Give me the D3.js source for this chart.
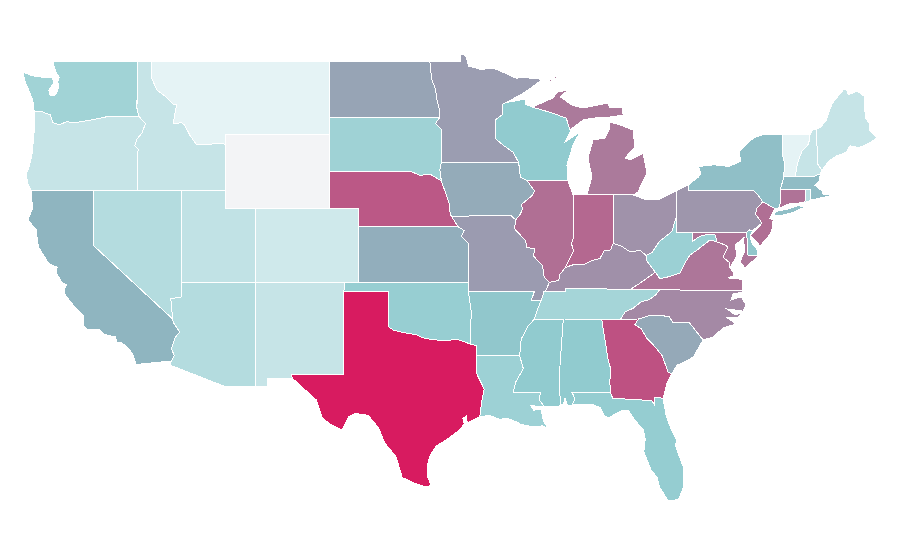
<!DOCTYPE html>
<html>
<head>
<meta charset="utf-8">
<script src="https://cdn.jsdelivr.net/npm/d3@7"></script>
<style>
body { margin: 0; background: #fff; }
</style>
</head>
<body>
<svg id="map" width="900" height="560" viewBox="0 0 900 560"></svg>
<script>
const stateNames = ["WA","OR","CA","NV","ID","MT","WY","UT","AZ","NM","CO","ND","SD","NE","KS","OK","TX","MN","IA","MO","AR","LA","WI","IL","IN","MI","OH","KY","TN","MS","AL","GA","FL","SC","NC","VA","WV","MD","DE","PA","NJ","NY","CT","RI","MA","VT","NH","ME"];

const stateValues = [40,22,56,31,22,7,0,24.5,31,22,17.5,61,41,82.5,58,45,100,63,59,63.5,49.5,42,48,76,78,73,66,66.5,38,48,48,84.5,46,59.5,68.5,74,43,74,50,65,76,52.5,75,28.5,53.5,7,22,22];

// state outlines in lon/lat, one list of rings per state
const stateOutlines = [
  // WA
  [[[-124.73,48.38],[-124.1,48.2],[-123.5,48.13],[-122.95,48.1],[-122.75,48.15],[-122.7,47.8],[-123.0,47.4],[-122.9,47.1],[-122.6,47.15],[-122.45,47.3],[-122.35,47.6],[-122.4,47.9],[-122.3,48.1],[-122.55,48.45],[-122.75,49],[-117.03,49],[-117.04,46.42],[-116.92,46.0],[-119.0,46.0],[-119.3,45.93],[-120.0,45.82],[-120.6,45.74],[-121.2,45.65],[-121.8,45.7],[-122.3,45.55],[-122.75,45.65],[-122.8,45.85],[-122.9,46.08],[-123.2,46.15],[-123.5,46.26],[-124.0,46.27],[-124.05,46.65],[-124.1,46.9],[-124.35,47.4],[-124.65,47.95]]],
  // OR
  [[[-124.0,46.27],[-123.5,46.26],[-123.2,46.15],[-122.9,46.08],[-122.8,45.85],[-122.75,45.65],[-122.3,45.55],[-121.8,45.7],[-121.2,45.65],[-120.6,45.74],[-120.0,45.82],[-119.3,45.93],[-119.0,46.0],[-116.92,46.0],[-116.47,45.6],[-116.7,45.1],[-117.05,44.75],[-117.2,44.4],[-116.95,44.2],[-117.03,43.8],[-117.03,42],[-120,42],[-124.2,42],[-124.4,42.3],[-124.55,42.84],[-124.4,43.1],[-124.15,43.9],[-124.05,44.7],[-123.95,45.6]]],
  // CA
  [[[-124.2,42],[-120,42],[-120,39],[-114.63,35.0],[-114.57,34.8],[-114.15,34.3],[-114.45,34.0],[-114.7,33.4],[-114.52,33.0],[-114.72,32.72],[-117.12,32.53],[-117.28,33.0],[-117.6,33.4],[-118.1,33.72],[-118.4,33.75],[-118.5,34.03],[-119.2,34.15],[-119.6,34.42],[-120.45,34.45],[-120.65,34.6],[-120.65,35.15],[-121.3,35.7],[-121.9,36.3],[-121.95,36.6],[-121.8,36.85],[-122.1,36.96],[-122.5,37.5],[-122.45,37.8],[-122.5,37.83],[-123.0,38.0],[-123.7,38.9],[-123.8,39.4],[-123.85,39.85],[-124.35,40.3],[-124.4,40.45],[-124.1,41.0],[-124.2,41.75]]],
  // NV
  [[[-120,42],[-114.04,42],[-114.04,36.2],[-114.75,36.1],[-114.63,35.0],[-120,39]]],
  // ID
  [[[-117.03,49],[-116.05,49],[-116.05,48.08],[-115.7,47.43],[-115.0,47.0],[-114.6,46.65],[-114.35,46.65],[-114.6,45.6],[-114.0,45.65],[-113.8,45.5],[-113.45,44.95],[-113.0,44.45],[-112.4,44.45],[-111.5,44.55],[-111.05,44.48],[-111.05,42],[-117.03,42],[-117.03,43.8],[-116.95,44.2],[-117.2,44.4],[-117.05,44.75],[-116.7,45.1],[-116.47,45.6],[-116.92,46.0],[-117.04,46.42]]],
  // MT
  [[[-116.05,49],[-104.05,49],[-104.05,45],[-111.05,45],[-111.05,44.48],[-111.5,44.55],[-112.4,44.45],[-113.0,44.45],[-113.45,44.95],[-113.8,45.5],[-114.0,45.65],[-114.6,45.6],[-114.35,46.65],[-114.6,46.65],[-115.0,47.0],[-115.7,47.43],[-116.05,48.08]]],
  // WY
  [[[-111.05,45],[-104.05,45],[-104.05,41],[-111.05,41]]],
  // UT
  [[[-114.04,42],[-111.05,42],[-111.05,41],[-109.05,41],[-109.05,37],[-114.04,37]]],
  // AZ
  [[[-114.04,37],[-109.05,37],[-109.05,31.33],[-111.07,31.33],[-114.81,32.5],[-114.72,32.72],[-114.52,33.0],[-114.7,33.4],[-114.45,34.0],[-114.15,34.3],[-114.57,34.8],[-114.63,35.0],[-114.75,36.1],[-114.04,36.2]]],
  // NM
  [[[-109.05,37],[-103.0,37],[-103.04,36.5],[-103.06,32.0],[-106.62,32.0],[-106.53,31.78],[-108.21,31.78],[-108.21,31.33],[-109.05,31.33]]],
  // CO
  [[[-109.05,41],[-102.05,41],[-102.05,37],[-109.05,37]]],
  // ND
  [[[-104.05,49],[-97.23,49],[-97.1,48],[-96.85,47.5],[-96.75,46.9],[-96.55,46.3],[-96.56,45.94],[-104.05,45.94]]],
  // SD
  [[[-104.05,45.94],[-96.56,45.94],[-96.85,45.6],[-96.45,45.3],[-96.45,43.5],[-96.55,43.1],[-96.45,42.49],[-97.2,42.85],[-97.9,42.8],[-98.5,43.0],[-104.05,43]]],
  // NE
  [[[-104.05,43],[-98.5,43],[-97.9,42.8],[-97.2,42.85],[-96.45,42.49],[-96.1,41.7],[-95.9,41.2],[-95.85,40.7],[-95.31,40.0],[-102.05,40],[-102.05,41],[-104.05,41]]],
  // KS
  [[[-102.05,40],[-95.31,40],[-94.9,39.8],[-95.1,39.5],[-94.6,39.1],[-94.62,37],[-102.04,37]]],
  // OK
  [[[-103.0,37],[-94.62,37],[-94.43,35.4],[-94.48,33.64],[-95.3,33.88],[-96.0,33.85],[-96.6,33.85],[-97.2,33.9],[-97.7,33.98],[-98.1,34.13],[-99.2,34.3],[-99.7,34.4],[-100.0,34.56],[-100.0,36.5],[-103.04,36.5]]],
  // TX
  [[[-106.62,32],[-103.06,32],[-103.04,36.5],[-100,36.5],[-100,34.56],[-99.7,34.4],[-99.2,34.3],[-98.1,34.13],[-97.7,33.98],[-97.2,33.9],[-96.6,33.85],[-96.0,33.85],[-95.3,33.88],[-94.48,33.64],[-94.04,33.55],[-94.04,33.02],[-94.04,32.0],[-93.55,31.2],[-93.72,30.5],[-93.85,29.7],[-94.7,29.35],[-94.75,29.75],[-95.0,29.6],[-94.9,29.3],[-95.2,29.0],[-96.0,28.5],[-96.8,28.1],[-97.2,27.6],[-97.35,27.2],[-97.4,26.5],[-97.15,25.96],[-97.5,25.88],[-98.3,26.1],[-99.1,26.4],[-99.5,27.5],[-100.3,28.3],[-100.7,29.1],[-101.4,29.77],[-102.3,29.88],[-102.7,29.7],[-103.15,28.98],[-104.0,29.3],[-104.5,29.65],[-104.9,30.6],[-106.0,31.4],[-106.53,31.78]]],
  // MN
  [[[-97.23,49],[-95.15,49],[-95.15,49.38],[-94.8,49.3],[-94.6,48.72],[-93.8,48.55],[-92.9,48.6],[-92.0,48.3],[-91.4,48.07],[-90.75,48.1],[-89.6,48.0],[-90.8,47.3],[-92.05,46.75],[-92.3,46.65],[-92.3,46.1],[-92.8,45.8],[-92.75,45.3],[-92.8,44.8],[-92.3,44.45],[-91.6,44.05],[-91.22,43.5],[-96.45,43.5],[-96.45,45.3],[-96.85,45.6],[-96.56,45.94],[-96.55,46.3],[-96.75,46.9],[-96.85,47.5],[-97.1,48]]],
  // IA
  [[[-96.45,43.5],[-91.22,43.5],[-91.1,42.7],[-90.64,42.5],[-90.15,41.95],[-90.3,41.7],[-91.05,41.2],[-90.95,41.0],[-91.1,40.7],[-91.42,40.38],[-91.73,40.61],[-95.77,40.58],[-95.85,40.7],[-95.9,41.2],[-96.1,41.7],[-96.45,42.49],[-96.55,43.1]]],
  // MO
  [[[-95.77,40.58],[-91.73,40.61],[-91.42,40.38],[-91.5,39.9],[-90.75,39.25],[-90.68,38.9],[-90.15,38.8],[-90.2,38.4],[-89.6,37.9],[-89.5,37.3],[-89.15,36.98],[-89.4,36.5],[-89.5,36.5],[-89.7,36.0],[-90.37,36.0],[-90.15,36.5],[-94.62,36.5],[-94.62,37],[-94.6,39.1],[-95.1,39.5],[-94.9,39.8],[-95.31,40.0]]],
  // AR
  [[[-94.62,36.5],[-90.15,36.5],[-90.37,36.0],[-89.7,36.0],[-89.95,35.5],[-90.15,35.0],[-90.6,34.6],[-91.05,33.9],[-91.15,33.0],[-94.04,33.02],[-94.04,33.55],[-94.48,33.64],[-94.43,35.4]]],
  // LA
  [[[-94.04,33.02],[-91.15,33.0],[-90.9,32.3],[-91.4,31.6],[-91.6,31.0],[-89.73,31.0],[-89.85,30.65],[-89.5,30.25],[-89.8,30.25],[-90.4,30.3],[-90.2,30.05],[-89.7,30.1],[-89.62,29.8],[-89.55,29.45],[-89.2,29.05],[-89.6,29.2],[-90.25,29.14],[-91.13,29.3],[-91.3,29.4],[-92.0,29.62],[-92.48,29.55],[-93.2,29.77],[-93.85,29.7],[-93.72,30.5],[-93.55,31.2],[-94.04,32.0]]],
  // WI
  [[[-92.05,46.75],[-91.2,46.87],[-90.8,46.95],[-90.75,46.65],[-90.3,46.5],[-88.96,46.18],[-88.0,45.9],[-87.74,45.26],[-87.74,45.14],[-88.08,44.6],[-87.07,45.15],[-87.54,44.44],[-87.95,43.36],[-87.88,42.49],[-90.64,42.5],[-91.1,42.7],[-91.22,43.5],[-91.6,44.05],[-92.3,44.45],[-92.8,44.8],[-92.75,45.3],[-92.8,45.8],[-92.3,46.1],[-92.3,46.65]]],
  // IL
  [[[-90.64,42.5],[-87.88,42.49],[-87.53,41.72],[-87.53,39.35],[-87.65,39.1],[-87.5,38.7],[-88.05,37.8],[-88.45,37.4],[-88.5,37.1],[-89.15,36.98],[-89.5,37.3],[-89.6,37.9],[-90.2,38.4],[-90.15,38.8],[-90.68,38.9],[-90.75,39.25],[-91.5,39.9],[-91.42,40.38],[-91.1,40.7],[-90.95,41.0],[-91.05,41.2],[-90.3,41.7],[-90.15,41.95]]],
  // IN
  [[[-87.53,41.72],[-87.2,41.76],[-86.6,41.76],[-84.8,41.76],[-84.82,39.1],[-85.0,38.75],[-85.45,38.7],[-85.7,38.3],[-86.3,38.15],[-86.8,37.95],[-87.5,37.95],[-88.05,37.8],[-87.5,38.7],[-87.65,39.1],[-87.53,39.35]]],
  // MI
  [[[-90.3,46.5],[-88.96,46.18],[-88.0,45.9],[-87.74,45.26],[-86.86,45.8],[-86.19,45.9],[-85.04,45.96],[-84.15,46.07],[-84.22,46.45],[-85.04,46.45],[-85.17,46.72],[-86.86,46.45],[-87.6,46.6],[-88.4,47.05],[-87.88,47.43],[-88.55,47.32],[-88.75,47.15],[-88.88,47.0]],
   [[-86.6,41.76],[-84.8,41.76],[-83.45,41.73],[-83.14,41.9],[-83.0,42.16],[-82.53,42.92],[-82.8,44.0],[-83.68,43.63],[-84.02,43.74],[-83.35,44.33],[-83.48,45.25],[-84.36,45.53],[-85.04,45.69],[-85.04,45.36],[-85.38,44.82],[-86.19,44.71],[-86.53,43.74],[-86.26,42.71]],
   [[-89.2,47.85],[-88.5,48.15],[-88.7,48.15],[-89.15,47.95]]],
  // OH
  [[[-84.8,41.76],[-83.45,41.73],[-82.7,41.5],[-81.7,41.5],[-80.52,41.98],[-80.52,40.64],[-80.85,39.75],[-81.7,39.2],[-82.2,38.6],[-82.6,38.45],[-83.0,38.72],[-83.7,38.65],[-84.25,38.95],[-84.82,39.1]]],
  // KY
  [[[-84.82,39.1],[-84.25,38.95],[-83.7,38.65],[-83.0,38.72],[-82.6,38.45],[-82.6,38.2],[-81.97,37.54],[-83.0,36.95],[-83.68,36.6],[-86.5,36.65],[-88.07,36.68],[-88.07,36.5],[-89.4,36.5],[-89.15,36.98],[-88.5,37.1],[-88.45,37.4],[-88.05,37.8],[-87.5,37.95],[-86.8,37.95],[-86.3,38.15],[-85.7,38.3],[-85.45,38.7],[-85.0,38.75]]],
  // TN
  [[[-81.68,36.59],[-83.68,36.6],[-86.5,36.65],[-88.07,36.68],[-88.07,36.5],[-89.5,36.5],[-89.7,36.0],[-89.95,35.5],[-90.15,35.0],[-88.2,35.0],[-85.6,34.98],[-84.32,34.99],[-84.0,35.4],[-83.5,35.57],[-82.9,35.95],[-82.4,36.05],[-81.95,36.3]]],
  // MS
  [[[-88.2,35.0],[-90.15,35.0],[-90.6,34.6],[-91.05,33.9],[-91.15,33.0],[-90.9,32.3],[-91.4,31.6],[-91.6,31.0],[-89.73,31.0],[-89.85,30.65],[-89.5,30.25],[-88.42,30.28],[-88.4,30.37],[-88.47,31.9]]],
  // AL
  [[[-88.2,35.0],[-85.6,34.98],[-85.18,32.87],[-85.0,32.3],[-85.05,31.55],[-85.0,31.0],[-87.6,31.0],[-87.4,30.65],[-87.6,30.33],[-87.9,30.28],[-88.08,30.72],[-88.2,30.33],[-88.4,30.37],[-88.47,31.9]]],
  // GA
  [[[-85.6,34.98],[-84.32,34.99],[-83.11,35.0],[-83.35,34.7],[-82.9,34.45],[-82.55,33.95],[-82.0,33.5],[-81.5,33.0],[-81.1,32.1],[-80.85,32.03],[-81.15,31.6],[-81.45,30.7],[-82.05,30.75],[-82.05,30.37],[-82.2,30.57],[-84.86,30.7],[-85.0,31.0],[-85.05,31.55],[-85.0,32.3],[-85.18,32.87]]],
  // FL
  [[[-87.6,31.0],[-85.0,31.0],[-84.86,30.7],[-82.2,30.57],[-82.05,30.37],[-82.05,30.75],[-81.45,30.7],[-81.25,29.8],[-80.9,29.0],[-80.55,28.45],[-80.6,28.1],[-80.05,26.9],[-80.1,25.8],[-80.4,25.2],[-81.1,25.13],[-81.7,25.9],[-81.85,26.4],[-82.25,26.8],[-82.75,27.8],[-82.65,28.5],[-82.8,29.0],[-83.4,29.55],[-83.82,30.06],[-84.35,30.0],[-85.1,29.65],[-85.38,29.7],[-85.72,30.2],[-86.3,30.38],[-87.6,30.33],[-87.4,30.65]]],
  // SC
  [[[-83.11,35.0],[-82.3,35.2],[-81.05,35.15],[-80.8,34.82],[-79.67,34.8],[-78.74,33.86],[-79.4,32.94],[-79.9,32.7],[-80.5,32.5],[-80.85,32.03],[-81.1,32.1],[-81.5,33.0],[-82.0,33.5],[-82.55,33.95],[-82.9,34.45],[-83.35,34.7]]],
  // NC
  [[[-84.32,34.99],[-83.11,35.0],[-82.3,35.2],[-81.05,35.15],[-80.8,34.82],[-79.67,34.8],[-78.74,33.86],[-78.07,34.02],[-77.39,34.51],[-76.71,34.68],[-76.58,34.78],[-77.12,35.06],[-76.44,35.06],[-76.11,35.33],[-76.58,35.22],[-77.12,35.54],[-76.04,35.43],[-75.83,35.76],[-76.11,36.14],[-76.44,36.14],[-76.85,36.03],[-76.71,36.36],[-76.04,36.47],[-76.04,36.52],[-81.68,36.59],[-81.95,36.3],[-82.4,36.05],[-82.9,35.95],[-83.5,35.57],[-84.0,35.4]]],
  // VA
  [[[-76.04,36.52],[-81.68,36.59],[-83.68,36.6],[-83.0,36.95],[-81.97,37.54],[-81.68,37.2],[-81.25,37.25],[-80.3,37.5],[-80.0,38.0],[-79.63,38.47],[-79.15,38.74],[-78.27,39.29],[-77.8,39.18],[-77.26,39.02],[-77.05,38.9],[-77.39,38.36],[-76.92,38.04],[-76.92,37.77],[-76.71,37.55],[-76.71,37.33],[-77.05,37.23],[-76.1,37.15]]],
  // WV
  [[[-82.6,38.45],[-82.2,38.6],[-81.7,39.2],[-80.85,39.75],[-80.52,40.64],[-80.52,39.72],[-79.48,39.72],[-79.48,39.2],[-79.0,39.47],[-78.4,39.61],[-77.93,39.56],[-77.8,39.18],[-78.27,39.29],[-79.15,38.74],[-79.63,38.47],[-80.0,38.0],[-80.3,37.5],[-81.25,37.25],[-81.68,37.2],[-81.97,37.54],[-82.6,38.2]]],
  // MD
  [[[-79.48,39.72],[-75.79,39.72],[-75.7,38.46],[-75.05,38.45],[-75.09,38.36],[-75.9,37.77],[-76.24,38.09],[-75.9,38.75],[-76.04,39.4],[-75.9,39.45],[-76.58,39.02],[-76.44,38.47],[-76.92,37.77],[-76.92,38.04],[-77.39,38.36],[-77.05,38.9],[-77.26,39.02],[-77.8,39.18],[-77.93,39.56],[-78.4,39.61],[-79.0,39.47],[-79.48,39.2]]],
  // DE
  [[[-75.79,39.72],[-75.6,39.83],[-75.4,39.8],[-75.55,39.45],[-75.4,39.05],[-75.1,38.8],[-75.05,38.45],[-75.7,38.46]]],
  // PA
  [[[-80.52,41.98],[-79.76,42.27],[-79.76,42.0],[-75.35,42.0],[-75.05,41.75],[-74.7,41.36],[-75.1,41.0],[-75.2,40.7],[-74.75,40.2],[-75.4,39.8],[-75.6,39.83],[-75.79,39.72],[-80.52,39.72],[-80.52,40.64]]],
  // NJ
  [[[-74.7,41.36],[-73.9,41.0],[-74.05,40.7],[-74.25,40.45],[-74.0,40.4],[-74.1,39.75],[-74.4,39.4],[-74.9,38.95],[-75.1,39.2],[-75.55,39.55],[-75.1,39.9],[-74.75,40.2],[-75.2,40.7],[-75.1,41.0]]],
  // NY
  [[[-79.76,42.27],[-79.05,42.7],[-78.9,42.9],[-79.05,43.27],[-78.0,43.37],[-77.0,43.28],[-76.2,43.55],[-76.3,44.1],[-75.3,44.85],[-74.7,45.0],[-73.35,45.0],[-73.4,44.0],[-73.25,43.55],[-73.27,42.75],[-73.5,42.05],[-73.5,41.3],[-73.65,41.0],[-73.9,41.0],[-74.7,41.36],[-75.05,41.75],[-75.35,42.0],[-79.76,42.0]],
   [[-74.03,40.6],[-73.75,40.85],[-73.0,40.97],[-72.3,41.15],[-71.87,41.07],[-72.6,40.8],[-73.5,40.6]]],
  // CT
  [[[-73.5,42.05],[-71.8,42.02],[-71.85,41.32],[-72.9,41.25],[-73.65,41.0],[-73.5,41.3]]],
  // RI
  [[[-71.8,42.02],[-71.45,42.02],[-71.45,41.45],[-71.85,41.32]]],
  // MA
  [[[-73.27,42.75],[-71.25,42.74],[-70.82,42.87],[-70.85,42.5],[-71.17,42.25],[-70.7,41.95],[-70.6,41.75],[-70.1,41.72],[-70.1,41.68],[-70.65,41.6],[-71.17,41.5],[-71.45,41.45],[-71.45,42.02],[-71.8,42.02],[-73.5,42.05]]],
  // VT
  [[[-73.35,45],[-71.5,45],[-71.6,44.5],[-72.05,44.1],[-72.3,43.6],[-72.45,43.1],[-72.46,42.73],[-73.27,42.75],[-73.25,43.55],[-73.4,44.0]]],
  // NH
  [[[-71.5,45.0],[-71.3,45.3],[-71.08,45.3],[-70.98,43.4],[-70.7,43.07],[-70.82,42.87],[-71.25,42.74],[-72.46,42.73],[-72.45,43.1],[-72.3,43.6],[-72.05,44.1],[-71.6,44.5]]],
  // ME
  [[[-71.08,45.3],[-70.8,45.4],[-70.4,45.8],[-70.25,46.2],[-70.0,46.7],[-69.23,47.46],[-69.05,47.43],[-68.9,47.18],[-68.3,47.36],[-67.8,47.07],[-67.78,45.9],[-67.45,45.6],[-67.45,45.2],[-66.97,44.82],[-67.6,44.5],[-68.2,44.3],[-68.8,44.4],[-69.05,44.05],[-69.7,43.85],[-70.2,43.6],[-70.7,43.07],[-70.98,43.4]]]
];

let svg = d3.select("#map")

let color = d3.scaleLinear()
    .domain([0, 7, 48, 56, 100])
    .range(["#f3f4f6", "#e5f3f5", "#91cbcf", "#8fb5c0", "#d81b60"])

// the map is stretched: 14.78px a degree across, 18.43px a degree down
let x = d3.scaleLinear().domain([-117.04, -104.05]).range([137, 329])
let y = d3.scaleLinear().domain([49, 42]).range([61, 190])

let projection = d3.geoTransform({
    point: function(lon, lat) {
        this.stream.point(x(lon), y(lat));
    }
});
let path = d3.geoPath(projection)

let features = stateNames.map(function(name, i) {
    return {
        type: "Feature",
        properties: {name: name, value: stateValues[i]},
        // geojson rings have to end on their first point
        geometry: {type: "MultiPolygon", coordinates: stateOutlines[i].map(function(ring) { return [ring.concat([ring[0]])] })}
    }
})

svg.append("g")
    .selectAll("path")
    .data(features)
    .enter()
    .append("path")
    .attr("class", function(d) { return d.properties.name })
    .attr("d", path)
    .attr("fill", function(d) { return color(d.properties.value) })
    .attr("stroke", "#fff")
    .attr("stroke-width", 1)
    .attr("shape-rendering", "crispEdges")
</script>
</body>
</html>
